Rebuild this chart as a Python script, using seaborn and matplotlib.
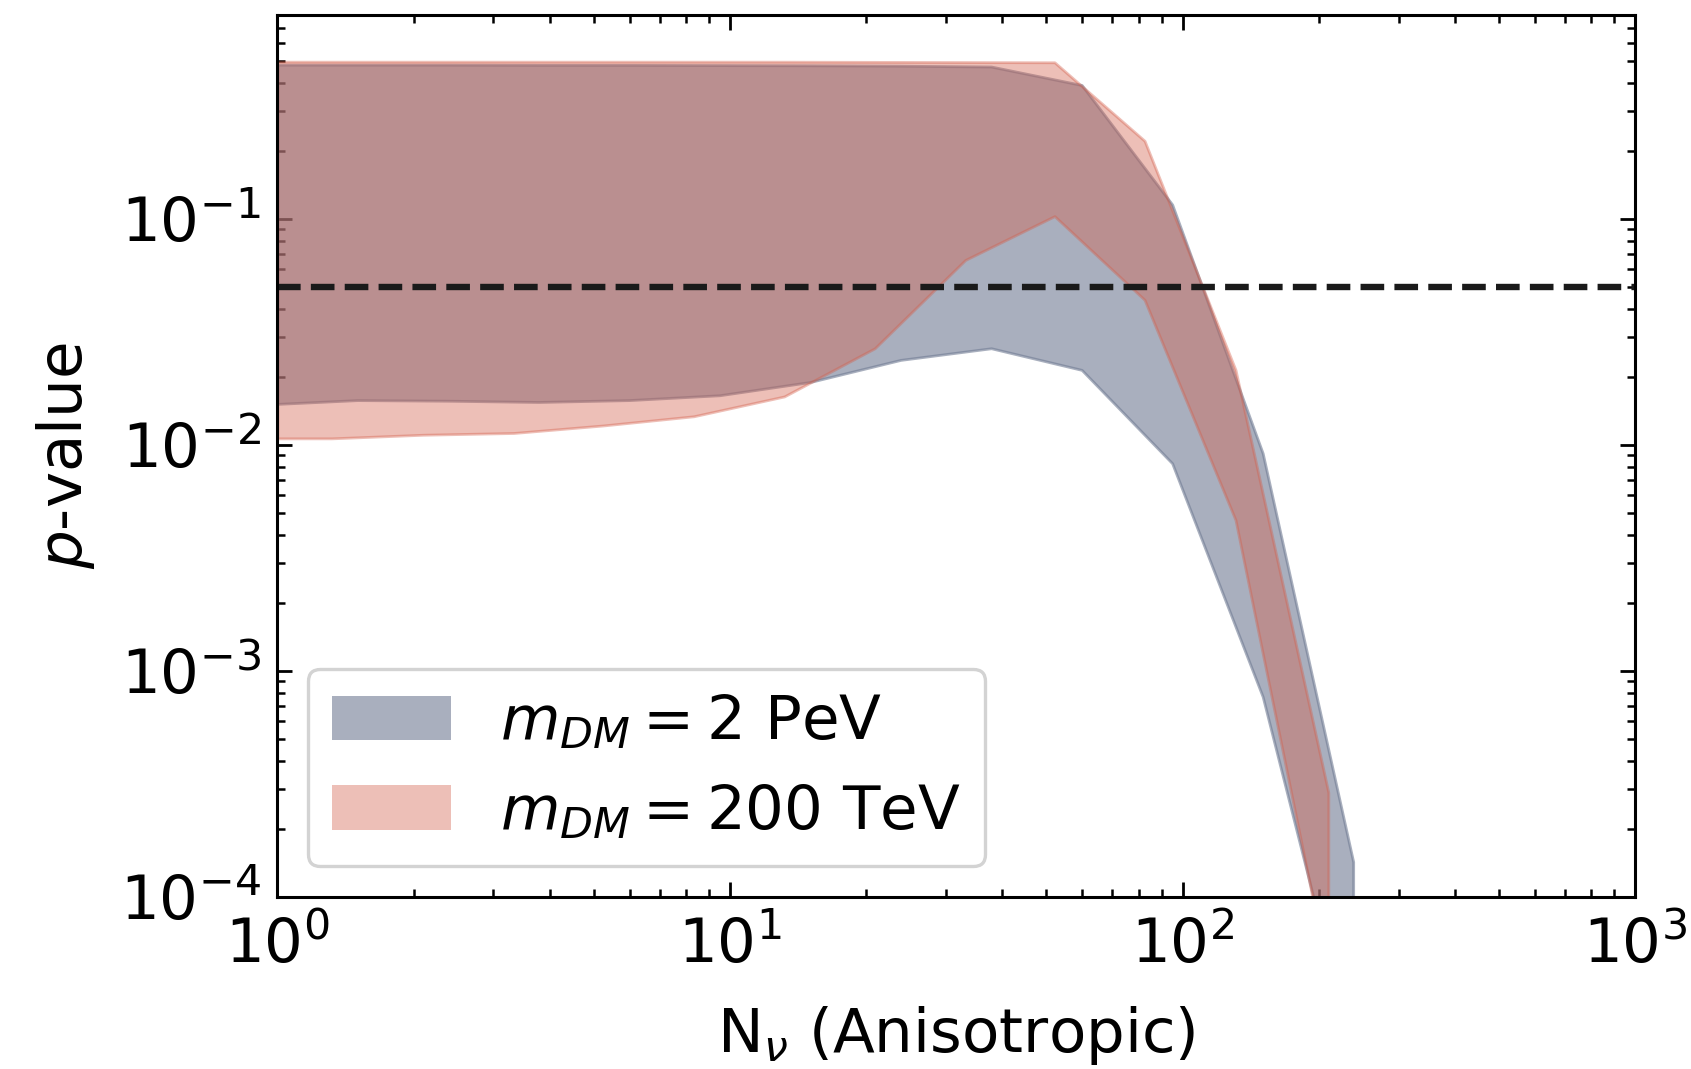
import numpy as np
import pandas as pd
import matplotlib
matplotlib.use("Agg")
import matplotlib.pyplot as plt
import seaborn as sns

# ---- data ----
N_2PeV = [1.0, 1.503, 2.382, 3.776, 5.984, 9.484, 15.03, 23.82, 37.76, 59.84, 94.84, 150.3, 238.2]
lo_2PeV = [0.0152, 0.0158, 0.0157, 0.0155, 0.0158, 0.0166, 0.0190, 0.0238, 0.0268, 0.0215, 0.0083, 7.7e-4, 2.0e-5]
hi_2PeV = [0.482, 0.482, 0.482, 0.481, 0.481, 0.480, 0.479, 0.477, 0.473, 0.392, 0.116, 0.0092, 1.43e-4]

N_200TeV = [1.0, 1.318, 2.099, 3.327, 5.248, 8.318, 13.18, 20.89, 33.11, 52.12, 82.41, 130.9, 209.9]
lo_200TeV = [0.0107, 0.0107, 0.0111, 0.0113, 0.0122, 0.0134, 0.0164, 0.0268, 0.0659, 0.103, 0.0439, 0.00466, 4.5e-5]
hi_200TeV = [0.497, 0.497, 0.497, 0.497, 0.497, 0.497, 0.497, 0.496, 0.495, 0.494, 0.222, 0.0215, 2.9e-4]

labels = [r"$m_{DM} = 2$ PeV", r"$m_{DM} = 200$ TeV"]
threshold = 0.05

sns.set_theme(style="ticks")
plt.rcParams.update({
    "font.family": ["DejaVu Sans"],
    "mathtext.fontset": "dejavusans",
    "text.color": "black",
    "axes.labelcolor": "black",
    "xtick.labelcolor": "black",
    "ytick.labelcolor": "black",
    "xtick.direction": "in",
    "ytick.direction": "in",
    "xtick.top": True,
    "ytick.right": True,
    "xtick.major.size": 5.5,
    "ytick.major.size": 5.5,
    "xtick.minor.size": 2.8,
    "ytick.minor.size": 2.8,
    "xtick.major.width": 1.0,
    "ytick.major.width": 1.0,
    "xtick.minor.width": 0.9,
    "ytick.minor.width": 0.9,
    "axes.linewidth": 1.1,
    "axes.edgecolor": "black",
    "xtick.color": "black",
    "ytick.color": "black",
})

df_a = pd.DataFrame({"N": N_2PeV, "lo": lo_2PeV, "hi": hi_2PeV})
df_b = pd.DataFrame({"N": N_200TeV, "lo": lo_200TeV, "hi": hi_200TeV})

fig, ax = plt.subplots(figsize=(8.455, 5.345), dpi=200)
fig.subplots_adjust(left=0.164, right=0.967, bottom=0.161, top=0.986)

blue = (112/255, 123/255, 147/255)
red = (212/255, 95/255, 75/255)

ax.fill_between(df_a["N"], df_a["lo"], df_a["hi"], color=blue, alpha=0.6,
                lw=1.0, label=labels[0])
ax.fill_between(df_b["N"], df_b["lo"], df_b["hi"], color=red, alpha=0.4,
                lw=1.0, label=labels[1])
ax.axhline(threshold, color="#1a1a1a", ls="--", lw=2.3)

ax.set_xscale("log")
ax.set_yscale("log")
ax.set_xlim(1, 1000)
ax.set_ylim(1e-4, 0.8)

ax.tick_params(axis="both", which="major", labelsize=22, pad=6)
ax.tick_params(axis="x", which="major", pad=7)
ax.tick_params(axis="both", which="both", top=True, right=True, direction="in")
ax.set_xlabel(r"N$_{\nu}$ (Anisotropic)", fontsize=22, labelpad=10)
ax.set_ylabel(r"$p$-value", fontsize=22, labelpad=8)

leg = ax.legend(loc="lower left", fontsize=22, frameon=True, fancybox=True,
                handlelength=1.95, handleheight=0.75, borderaxespad=0.5,
                labelspacing=0.5, handletextpad=0.8)
for h in leg.legend_handles:
    h.set_linewidth(0)
leg.get_frame().set_edgecolor("#d3d3d3")
leg.get_frame().set_linewidth(1.2)
leg.get_frame().set_alpha(1.0)

fig.savefig("out.png", dpi=200)
